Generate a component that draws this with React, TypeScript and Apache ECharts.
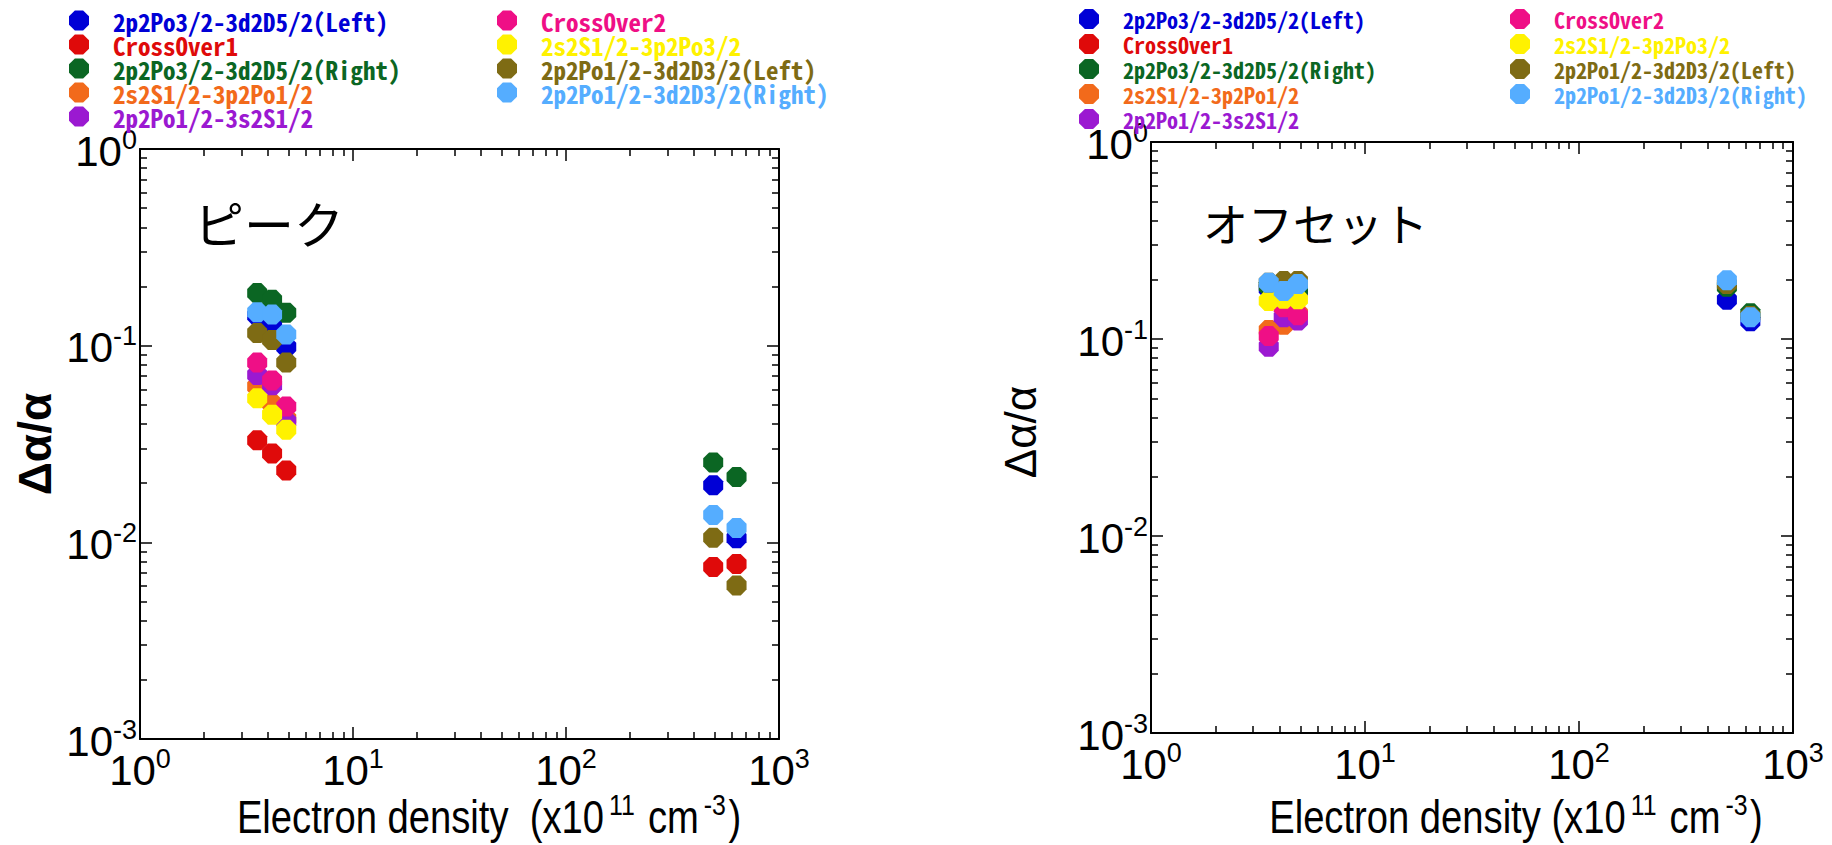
import React, { useEffect, useRef } from "react";
import * as echarts from "echarts";

// ---- data ----
const seriesNames = [
  "2p2Po3/2-3d2D5/2(Left)",
  "CrossOver1",
  "2p2Po3/2-3d2D5/2(Right)",
  "2s2S1/2-3p2Po1/2",
  "2p2Po1/2-3s2S1/2",
  "CrossOver2",
  "2s2S1/2-3p2Po3/2",
  "2p2Po1/2-3d2D3/2(Left)",
  "2p2Po1/2-3d2D3/2(Right)",
];
const seriesColors = [
  "#0000D6", "#DF0A0A", "#0B6623", "#F26A1B", "#9B19D1",
  "#EF0F86", "#FFF200", "#7E6B14", "#55ADFF",
];

// electron density (x10^11 cm^-3)
const densityLow = [3.55, 4.17, 4.86];
const densityHigh = [491, 632];

// left panel: peak (Δα/α)
const peakBlueLeft = [0.142, 0.129, 0.0985, 0.0195, 0.0105];
const peakCrossOver1 = [0.033, 0.0283, 0.0232, 0.0075, 0.00776];
const peakGreenRight = [0.185, 0.171, 0.147, 0.0255, 0.0215];
const peakOrange = [0.062, 0.0507, 0.0425];
const peakPurple = [0.071, 0.063, 0.0412];
const peakCrossOver2 = [0.082, 0.0666, 0.049];
const peakYellow = [0.054, 0.0446, 0.0374];
const peakOliveLeft = [0.116, 0.107, 0.082, 0.01056, 0.00604];
const peakLightBlueRight = [0.148, 0.144, 0.114, 0.01378, 0.01184];

// right panel: offset (Δα/α)
const offBlueLeft = [0.18, 0.172, 0.175, 0.158, 0.123];
const offCrossOver1: number[] = [];
const offGreenRight = [0.185, 0.178, 0.178, 0.184, 0.135];
const offOrange = [0.111, 0.118, 0.135];
const offPurple = [0.0914, 0.129, 0.124];
const offCrossOver2 = [0.1035, 0.145, 0.132];
const offYellow = [0.156, 0.16, 0.159];
const offOliveLeft = [0.193, 0.197, 0.197, 0.19, 0.131];
const offLightBlueRight = [0.193, 0.175, 0.19, 0.199, 0.129];

const peakSets = [
  peakBlueLeft, peakCrossOver1, peakGreenRight, peakOrange, peakPurple,
  peakCrossOver2, peakYellow, peakOliveLeft, peakLightBlueRight,
];
const offSets = [
  offBlueLeft, offCrossOver1, offGreenRight, offOrange, offPurple,
  offCrossOver2, offYellow, offOliveLeft, offLightBlueRight,
];

const xTickExponents = [0, 1, 2, 3];
const yTickExponents = [-3, -2, -1, 0];

// ---- styling ----
const OCT =
  "path://M-0.383,-0.924L0.383,-0.924L0.924,-0.383L0.924,0.383L0.383,0.924L-0.383,0.924L-0.924,0.383L-0.924,-0.383Z";
const TICK_FONT = "'Liberation Sans Narrow', 'Liberation Sans', Arial, sans-serif";
const LEGEND_FONT = "'Noto Sans Mono CJK JP', 'Liberation Mono', monospace";

const toPoints = (vals: number[]) =>
  vals.map((v, i) => [i < 3 ? densityLow[i] : densityHigh[i - 3], v]);

const expLabel = (v: number) => {
  const e = Math.round(Math.log10(v));
  return `{b|10}{s|${e}}`;
};

const labelRich = {
  b: { fontFamily: TICK_FONT, fontSize: 42, color: "#000", lineHeight: 46, verticalAlign: "bottom" },
  s: { fontFamily: TICK_FONT, fontSize: 27, color: "#000", lineHeight: 28, verticalAlign: "top" },
};

const grids = [
  { left: 140, top: 149, width: 639, height: 590 },
  { left: 1151, top: 142, width: 642, height: 591 },
];

function makeAxes() {
  const xAxis: any[] = [];
  const yAxis: any[] = [];
  grids.forEach((_, g) => {
    ["bottom", "top"].forEach((pos) => {
      xAxis.push({
        type: "log",
        logBase: 10,
        min: Math.pow(10, xTickExponents[0]),
        max: Math.pow(10, xTickExponents[xTickExponents.length - 1]),
        gridIndex: g,
        position: pos,
        axisLine: { show: true, onZero: false, lineStyle: { color: "#000", width: 2 } },
        axisTick: { show: true, inside: true, length: 12, lineStyle: { color: "#000", width: 1.5 } },
        minorTick: { show: true, splitNumber: 9, length: 7, lineStyle: { color: "#000", width: 1.5 } },
        splitLine: { show: false },
        minorSplitLine: { show: false },
        axisLabel: {
          show: pos === "bottom",
          margin: 6,
          formatter: expLabel,
          rich: labelRich,
        },
      });
    });
    ["left", "right"].forEach((pos) => {
      yAxis.push({
        type: "log",
        logBase: 10,
        min: Math.pow(10, yTickExponents[0]),
        max: Math.pow(10, yTickExponents[yTickExponents.length - 1]),
        gridIndex: g,
        position: pos,
        axisLine: { show: true, onZero: false, lineStyle: { color: "#000", width: 2 } },
        axisTick: { show: true, inside: true, length: 12, lineStyle: { color: "#000", width: 1.5 } },
        minorTick: { show: true, splitNumber: 9, length: 7, lineStyle: { color: "#000", width: 1.5 } },
        splitLine: { show: false },
        minorSplitLine: { show: false },
        axisLabel: {
          show: pos === "left",
          margin: 3,
          formatter: expLabel,
          rich: labelRich,
        },
      });
    });
  });
  return { xAxis, yAxis };
}

function makeSeries() {
  const out: any[] = [];
  [peakSets, offSets].forEach((sets, g) => {
    sets.forEach((vals, i) => {
      out.push({
        type: "scatter",
        name: seriesNames[i],
        xAxisIndex: g * 2,
        yAxisIndex: g * 2,
        symbol: OCT,
        symbolSize: 20,
        itemStyle: { color: seriesColors[i], opacity: 1 },
        data: toPoints(vals),
        z: 2 + i,
      });
    });
  });
  return out;
}

function makeLegends() {
  const cols = [
    [0, 1, 2, 3, 4],
    [5, 6, 7, 8],
  ];
  const panels = [
    { lefts: [64, 492], top: 3, gap: -1, fontSize: 25 },
    { lefts: [1074, 1505], top: 3, gap: 3, fontSize: 22 },
  ];
  const legends: any[] = [];
  panels.forEach((p) => {
    cols.forEach((idxs, c) => {
      legends.push({
        orient: "vertical",
        left: p.lefts[c],
        top: p.top,
        itemWidth: 20,
        itemHeight: 20,
        itemGap: p.gap,
        icon: OCT,
        selectedMode: false,
        textStyle: {
          fontFamily: LEGEND_FONT,
          fontSize: p.fontSize,
          fontWeight: "bold",
          padding: [0, 0, 0, 19],
        },
        data: idxs.map((i) => ({
          name: seriesNames[i],
          itemStyle: { color: seriesColors[i] },
          textStyle: { color: seriesColors[i] },
        })),
      });
    });
  });
  return legends;
}

const titleRich = {
  t: { fontFamily: "'Liberation Sans', Arial, sans-serif", fontSize: 46, color: "#000", lineHeight: 50, verticalAlign: "bottom" },
  s: { fontFamily: "'Liberation Sans', Arial, sans-serif", fontSize: 30, color: "#000", lineHeight: 30, verticalAlign: "top", padding: [0, 3, 0, 6] },
};

function makeGraphics() {
  return [
    {
      type: "text",
      x: 194,
      y: 222,
      style: { text: "ピーク", font: "50px 'Noto Sans CJK JP'", fill: "#000", verticalAlign: "middle", align: "left" },
    },
    {
      type: "text",
      x: 1203,
      y: 222,
      style: { text: "オフセット", font: "45px 'Noto Sans CJK JP'", fill: "#000", verticalAlign: "middle", align: "left" },
    },
    {
      type: "text",
      x: 35,
      y: 444,
      rotation: Math.PI / 2,
      style: { text: "Δα/α", font: "bold 46px 'Liberation Sans'", fill: "#000", align: "center", verticalAlign: "middle" },
    },
    {
      type: "text",
      x: 1020,
      y: 432,
      rotation: Math.PI / 2,
      style: { text: "Δα/α", font: "44px 'Liberation Sans'", fill: "#000", align: "center", verticalAlign: "middle" },
    },
    {
      type: "text",
      x: 489,
      y: 815,
      scaleX: 0.83,
      style: {
        text: "{t|Electron density  (x10}{s|11}{t| cm}{s|-3}{t|)}",
        rich: titleRich,
        align: "center",
        verticalAlign: "middle",
      },
    },
    {
      type: "text",
      x: 1516,
      y: 815,
      scaleX: 0.83,
      style: {
        text: "{t|Electron density (x10}{s|11}{t| cm}{s|-3}{t|)}",
        rich: titleRich,
        align: "center",
        verticalAlign: "middle",
      },
    },
  ];
}

export default function App() {
  const ref = useRef<HTMLDivElement>(null);
  useEffect(() => {
    if (!ref.current) return;
    const chart = echarts.init(ref.current, null, { renderer: "svg" });
    const { xAxis, yAxis } = makeAxes();
    chart.setOption({
      animation: false,
      backgroundColor: "#fff",
      grid: grids,
      xAxis,
      yAxis,
      legend: makeLegends(),
      series: makeSeries(),
      graphic: makeGraphics(),
    });
    return () => chart.dispose();
  }, []);
  return (
    <div
      ref={ref}
      style={{ position: "fixed", left: 0, top: 0, width: 1832, height: 845, background: "#fff" }}
    />
  );
}
